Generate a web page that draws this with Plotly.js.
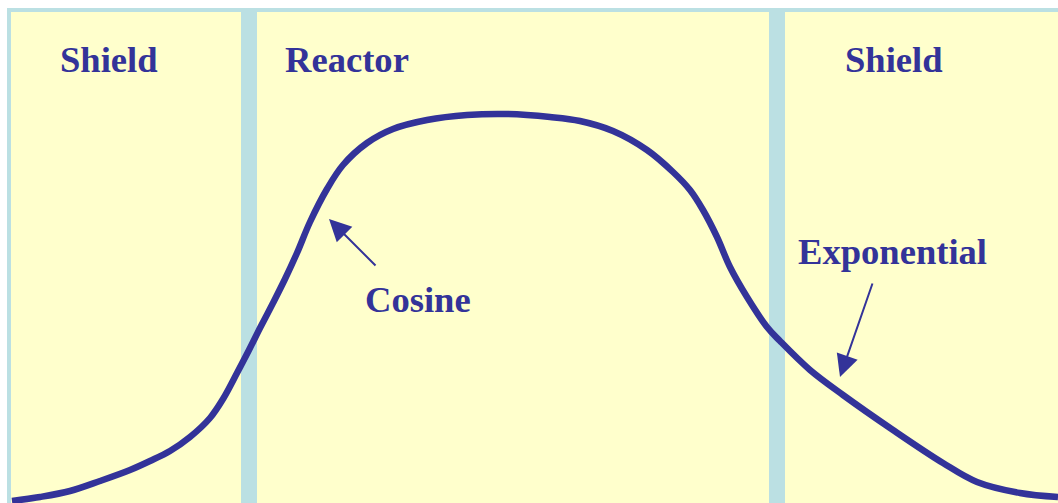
<!DOCTYPE html>
<html>
<head>
<meta charset="utf-8">
<script src="https://cdn.plot.ly/plotly-3.0.1.min.js"></script>
<style>html,body{margin:0;padding:0;background:#fff;}#chart{width:1058px;height:503px;}</style>
</head>
<body>
<div id="chart"></div>
<script>
// Position across shield | reactor | shield (pixel-like units) and relative flux
const position = [12,40,70,100,130,150,170,190,210,223,237,249,260,273,285,297,310,327,343,367,393,427,467,507,550,580,613,647,673,690,703,717,730,747,767,780,810,843,893,943,977,1020,1058];
const flux =     [2,6,12,22,33,42,52,66,85,104,130,153,175,200,224,250,281,314,338,360,374,383,388,389,386,382,372,353,331,313,293,266,236,206,176,162,133,108,73,40,21,10,6];

const regionLabels = ["Shield", "Reactor", "Shield"];
const regionLabelX = [109, 347, 894];
const regionLabelY = [444, 444, 444];

const calloutLabels = ["Cosine", "Exponential"];
const calloutX = [418, 892];
const calloutY = [204, 252];
const arrowTipX = [329, 840];
const arrowTipY = [284, 126];
const arrowTailX = [377, 873];
const arrowTailY = [236, 221];

const wallLeft = [241, 769];
const wallRight = [257, 785];

const ink = "#333399";
const yellow = "#FFFFCC";
const blue = "#BBE0E3";
const fontFam = "'Liberation Serif', 'Times New Roman', serif";

const shapes = [
  {type:"rect", xref:"x", yref:"y", x0:7, x1:1060, y0:-5, y1:495, fillcolor:blue, line:{width:0}, layer:"below"},
  {type:"rect", xref:"x", yref:"y", x0:11, x1:1060, y0:-5, y1:491, fillcolor:yellow, line:{width:0}, layer:"below"}
];
for (let i = 0; i < wallLeft.length; i++) {
  shapes.push({type:"rect", xref:"x", yref:"y", x0:wallLeft[i], x1:wallRight[i], y0:-5, y1:491, fillcolor:blue, line:{width:0}, layer:"below"});
}

const annotations = [];
for (let i = 0; i < regionLabels.length; i++) {
  annotations.push({x:regionLabelX[i], y:regionLabelY[i], xref:"x", yref:"y", text:"<b>"+regionLabels[i]+"</b>", showarrow:false, xanchor:"center", yanchor:"middle", font:{family:fontFam, size:36.6, color:ink}});
}
for (let i = 0; i < calloutLabels.length; i++) {
  annotations.push({x:calloutX[i], y:calloutY[i], xref:"x", yref:"y", text:"<b>"+calloutLabels[i]+"</b>", showarrow:false, xanchor:"center", yanchor:"middle", font:{family:fontFam, size:36.6, color:ink}});
  annotations.push({x:arrowTipX[i], y:arrowTipY[i], ax:arrowTailX[i], ay:arrowTailY[i], xref:"x", yref:"y", axref:"x", ayref:"y", text:"", showarrow:true, arrowhead:2, arrowsize:2.2, arrowwidth:2, arrowcolor:ink, standoff:0});
}

const trace = {x:position, y:flux, type:"scatter", mode:"lines", line:{color:ink, width:6.5, shape:"spline", smoothing:1.0}, hoverinfo:"skip"};

const layout = {
  width:1058, height:503,
  margin:{l:0, r:0, t:0, b:0},
  paper_bgcolor:"#ffffff", plot_bgcolor:"#ffffff",
  showlegend:false,
  xaxis:{range:[0,1058], visible:false, fixedrange:true},
  yaxis:{range:[0,503], visible:false, fixedrange:true},
  shapes:shapes,
  annotations:annotations
};

Plotly.newPlot("chart", [trace], layout, {displayModeBar:false, staticPlot:true});
</script>
</body>
</html>
